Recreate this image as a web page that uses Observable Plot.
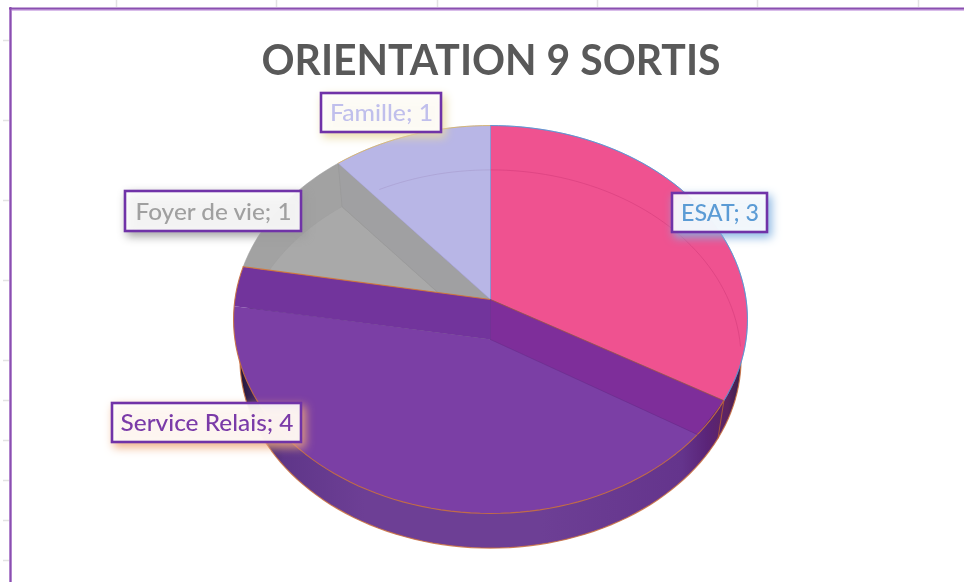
<!DOCTYPE html>
<html><head><meta charset="utf-8">
<script src="https://cdn.jsdelivr.net/npm/d3@7"></script>
<script src="https://cdn.jsdelivr.net/npm/@observablehq/plot@0.6"></script>
<style>html,body{margin:0;padding:0;background:#fff}svg{display:block;filter:blur(.45px)}</style>
</head><body><div id="chart"></div>
<script>
const categories = ["ESAT", "Service Relais", "Foyer de vie", "Famille"];
const values = [3, 4, 1, 1];
const labelTexts = categories.map((c, i) => `${c}; ${values[i]}`);
const title = "ORIENTATION 9 SORTIS";

// pie geometry: pixel frame of the unit disc and its perspective
const W = 964, H = 582, cx = 490, cy = 299, sx = 255.6, sy = 191.9, persp = -0.1031, lowK = 0.975, lowDy = 40 / 191.9;
const xDomainPx = p => (p - cx) / sx, yDomainPx = p => (p - cy) / sy;
const pt = (deg, r = 1, low = 0) => {
  const a = deg * Math.PI / 180, u = r * Math.sin(a), v = -r * Math.cos(a), d = 1 + persp * v;
  const k = low ? lowK : 1;
  return {x: u / d * k, y: v / d * k + (low ? lowDy : 0)};
};
const arc = (a0, a1, low = 0) => {
  const n = Math.max(2, Math.ceil(Math.abs(a1 - a0) / 2));
  return d3.range(n + 1).map(i => pt(a0 + (a1 - a0) * i / n, 1, low));
};
const total = d3.sum(values);
const cum = [0, ...d3.cumsum(values)].map(v => v / total * 360);
const [a0, a1, a2, a3, a4] = cum;  // 0, 120, 280, 320, 360
const apex = pt(0, 0), lowApex = pt(0, 0, 1);

const shapes = [];
const add = (id, pts, fill, stroke = "none", strokeWidth = 0, strokeOpacity = 1) =>
  pts.forEach(p => shapes.push({...p, id, fill, stroke, strokeWidth, strokeOpacity}));

// under-disc: the pie's side wall
add("side", arc(60, 300, 1), "url(#sideGrad)", "#c9703f", 1.2, .85);
// top sectors
add("esat", [apex, ...arc(a0, a1), apex], "#ef5290", "#5b9bd5", .8, .8);
add("foyer", [apex, ...arc(a2, a3), apex], "#a2a2a2", "#a0a0a0", .6);
add("foyerFloor", [lowApex, ...arc(a2, a3, 1), lowApex], "#a9a9a9", "#9f9f9f", .6);
add("foyerWall", [apex, pt(a3), pt(a3, 1, 1), lowApex, apex], "#a0a0a2", "#979797", .6);
add("famille", [apex, ...arc(a3, a4), apex], "#b8b6e6", "#a9a6dd", .6);
// Relais: sunken floor and its two inner walls
add("relaisFloor", [lowApex, ...arc(a1 + 11, a2 - 12), lowApex], "#7b3fa5", "none");
add("bandR", [apex, pt(a1), pt(a1 + 11), lowApex, apex], "#7e2e9a", "none");
add("bandL", [apex, lowApex, pt(a2 - 12), ...arc(a2 - 12, a2), apex], "#72349c", "none");

// thin lines
const lines = [];
const addL = (id, pts, stroke, w, o) => pts.forEach(p => lines.push({...p, id, stroke, w, o}));
addL("rimFront", arc(a1, a2), "#c9703f", 1.1, .9);
addL("edge1", [apex, pt(a2)], "#d8752f", 1.2, .85);
addL("edge2", [apex, pt(a1)], "#b24a3a", 1, .8);
addL("rimTop1", arc(a3, a4), "#d9b45c", 1, .8);
addL("rimTop2", arc(0, a1), "#5b8fd0", 1, .8);
addL("v", [apex, pt(0)], "#7f8fd0", 1, .7);
addL("faint1", arc(0, 92, 1), "#d9407f", 1, .7);
addL("faint2", arc(331, 360, 1), "#a9a0d2", 1, .7);
addL("faint3", [apex, lowApex], "#6f2d94", 1, .8);
addL("side1", [pt(a1), pt(a1, 1, 1)], "#b35b35", 1, .9);
addL("floorR", [lowApex, pt(a1 + 11)], "#6a2c8c", 1, .5);

// frame ticks of the sheet behind the chart
const topTicks = [116, 276, 437, 597, 757, 918].map(xDomainPx);
const leftTicks = [40, 120, 200, 280, 360, 400, 440, 480, 520, 560].map(yDomainPx);

// label boxes
const labels = [
  {text: labelTexts[3], x1: 321, x2: 441, y1: 93, y2: 132, tw: 103, color: "#c0bfec", shadow: "#e9d9a0"},
  {text: labelTexts[2], x1: 125, x2: 301, y1: 191, y2: 231, tw: 156, color: "#a0a0a0", shadow: "#9a9a9a"},
  {text: labelTexts[0], x1: 672, x2: 767, y1: 193, y2: 232, tw: 78, color: "#5b9bd5", shadow: "#7fb0e0"},
  {text: labelTexts[1], x1: 112, x2: 301, y1: 403, y2: 442, tw: 173, color: "#7a3ba8", shadow: "#eda878"}
].map(d => ({...d, ux1: xDomainPx(d.x1), ux2: xDomainPx(d.x2), uy1: yDomainPx(d.y1), uy2: yDomainPx(d.y2),
  ux: xDomainPx((d.x1 + d.x2) / 2), uy: yDomainPx((d.y1 + d.y2) / 2 + 1)}));

const svg = Plot.plot({
  width: W, height: H, margin: 0,
  x: {domain: [-1, 1], range: [cx - sx, cx + sx], axis: null},
  y: {domain: [-1, 1], range: [cy - sy, cy + sy], axis: null},
  style: {background: "#fff", overflow: "hidden"},
  marks: [
    Plot.ruleX(topTicks, {x: d => d, y1: yDomainPx(0), y2: yDomainPx(7), stroke: "#e3e3e3", strokeWidth: 1.5}),
    Plot.ruleY(leftTicks, {y: d => d, x1: xDomainPx(3), x2: xDomainPx(9), stroke: "#e3e3e3", strokeWidth: 1.5}),
    Plot.ruleY([yDomainPx(9)], {x1: xDomainPx(9), x2: xDomainPx(964), stroke: "#d9bdea", strokeWidth: 3}),
    Plot.ruleX([xDomainPx(10)], {y1: yDomainPx(8), y2: yDomainPx(582), stroke: "#d9bdea", strokeWidth: 3}),
    Plot.ruleY([yDomainPx(8)], {x1: xDomainPx(9), x2: xDomainPx(964), stroke: "#8a4fb0", strokeWidth: 2}),
    Plot.ruleX([xDomainPx(10)], {y1: yDomainPx(7), y2: yDomainPx(582), stroke: "#8a4fb0", strokeWidth: 2}),
    ...d3.groups(shapes, d => d.id).map(([id, pts]) => Plot.line(pts, {
      x: "x", y: "y", fill: pts[0].fill, stroke: pts[0].stroke,
      strokeWidth: pts[0].strokeWidth, strokeOpacity: pts[0].strokeOpacity, curve: "linear"
    })),
    ...d3.groups(lines, d => d.id).map(([id, pts]) => Plot.line(pts, {
      x: "x", y: "y", fill: "none", stroke: pts[0].stroke,
      strokeWidth: pts[0].w, strokeOpacity: pts[0].o, curve: "linear"
    })),
    Plot.rect(labels, {x1: "ux1", x2: "ux2", y1: "uy1", y2: "uy2", fill: "#fff", fillOpacity: .88, stroke: "#7033a8", strokeWidth: 2.6}),
    Plot.text(labels, {x: "ux", y: "uy", text: "text", fill: "color", fontSize: 23, fontFamily: "Lato", fontWeight: 500, stroke: null, className: "lbl"}),
    Plot.text([title], {x: xDomainPx(490.5), y: yDomainPx(61.5), text: d => d, fontSize: 42, fontWeight: 700,
      fontFamily: "Lato", fill: "#595959", className: "ttl"})
  ]
});
const sel = d3.select(svg);
const defs = sel.insert("defs", ":first-child");
const grad = defs.append("linearGradient").attr("id", "sideGrad").attr("gradientUnits", "userSpaceOnUse")
  .attr("x1", 238).attr("x2", 742).attr("y1", 0).attr("y2", 0);
[[0, "#1f1430"], [.03, "#3d2560"], [.09, "#5f3689"], [.25, "#6d3f95"], [.6, "#6d3f95"], [.88, "#64348c"], [.93, "#5a2478"], [.97, "#5d2360"], [1, "#35204a"]]
  .forEach(([o, c]) => grad.append("stop").attr("offset", o).attr("stop-color", c));
sel.selectAll('g[aria-label="rect"] rect').style("filter", (d, i) => `drop-shadow(3px 4px 5px ${labels[i].shadow})`);
sel.selectAll("g.lbl text").attr("textLength", (d, i) => labels[i].tw).attr("lengthAdjust", "spacingAndGlyphs");
sel.selectAll("g.ttl text").attr("textLength", 459).attr("lengthAdjust", "spacingAndGlyphs");
document.getElementById("chart").appendChild(svg);
</script></body></html>
